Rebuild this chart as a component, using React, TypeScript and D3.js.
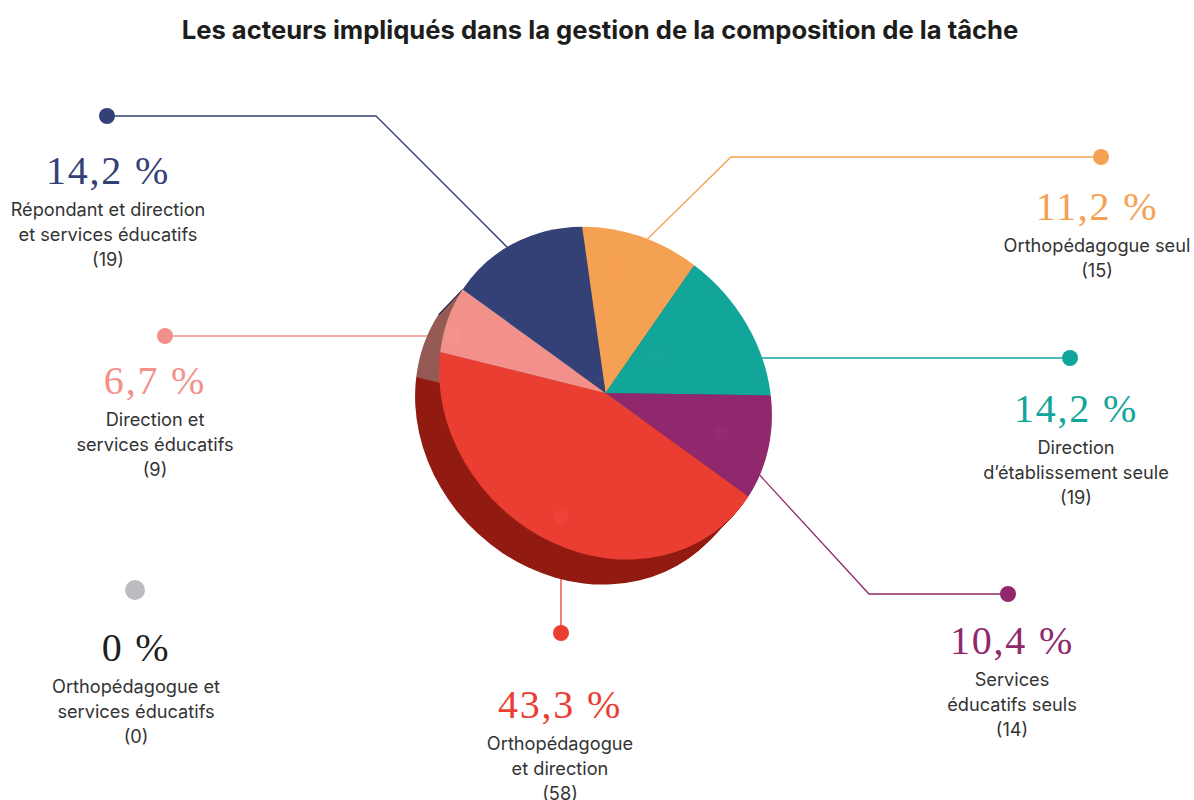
import React from 'react'
import * as d3 from 'd3'

const title = 'Les acteurs impliqués dans la gestion de la composition de la tâche'

// slices in clockwise order, from the top (orange first)
const actors = ['orthoSeul', 'directionSeule', 'servicesSeuls', 'orthoDirection', 'directionServices', 'repondant']
const counts = [15, 19, 14, 58, 9, 19]
const percents = ['11,2 %', '14,2 %', '10,4 %', '43,3 %', '6,7 %', '14,2 %']
const labels = [
  ['Orthopédagogue seul', '(15)'],
  ['Direction', 'd’établissement seule', '(19)'],
  ['Services', 'éducatifs seuls', '(14)'],
  ['Orthopédagogue', 'et direction', '(58)'],
  ['Direction et', 'services éducatifs', '(9)'],
  ['Répondant et direction', 'et services éducatifs', '(19)'],
]
const colors = ['#f4a153', '#12a59a', '#91286d', '#eb3e33', '#f2918a', '#344177']
const sideColors = ['#b5753a', '#0c7a72', '#6a1c50', '#911b11', '#955a54', '#1c2550']
const innerDotColors = ['#f6a050', '#15a69a', '#952a70', '#ed4339', '#f3958e', '#324076']

// leader line of each slice: outer dot first, inner dot last
const leaders: [number, number][][] = [
  [[1101, 157], [731, 157], [618, 268]],
  [[1070, 358], [655, 358]],
  [[1008, 594], [869, 594], [721, 433]],
  [[561, 633], [561, 517]],
  [[165, 336], [453, 336]],
  [[107, 116], [376, 116], [522, 262]],
]
const textPos: [number, number][] = [
  [1097, 220], [1076, 422], [1012, 654], [560, 718], [155, 394], [108, 184],
]

const width = 1194
const height = 800
const cx = 605.5
const cy = 393
const depthX = -24
const depthY = 25
const radiusLong = 177
const radiusShort = 155
const serif = '"Liberation Serif", serif'
const sans = 'Inter, sans-serif'

const Callout = ({x, y, percent, lines, color}: {x: number; y: number; percent: string; lines: string[]; color: string}) => (
  <g textAnchor="middle">
    <text x={x} y={y} fontFamily={serif} fontSize={40} letterSpacing={1.8} fill={color}>
      {percent}
    </text>
    {lines.map((line, i) => (
      <text key={line} x={x} y={y + 32 + i * 25} fontFamily={sans} fontSize={18.2} fill="#333333">
        {line}
      </text>
    ))}
  </g>
)

export default function App() {
  const pie = d3
    .pie<number>()
    .sort(null)
    .startAngle((-49.3 * Math.PI) / 180)
    .endAngle((310.7 * Math.PI) / 180)
  const slices = pie(counts)
  const arc = d3.arc<d3.PieArcDatum<number>>().innerRadius(0).outerRadius(1)
  const leader = d3.line()
  // the pie is a circle squashed along the NE-SW diagonal
  const squash = `rotate(45) scale(${radiusLong},${radiusShort})`
  const steps = d3.range(1, 27)

  // corner where the pink and navy slices meet, the navy side only shows as a thin line from there
  const a = slices[5].startAngle
  const lx = Math.sin(a) * radiusLong
  const ly = -Math.cos(a) * radiusShort
  const corner: [number, number] = [
    cx + (lx - ly) * Math.SQRT1_2,
    cy + (lx + ly) * Math.SQRT1_2,
  ]

  return (
    <svg width={width} height={height} style={{position: 'absolute', left: 0, top: 0}}>
      <rect width={width} height={height} fill="#ffffff" />
      <text x={600} y={39} textAnchor="middle" fontFamily={sans} fontWeight={700} fontSize={25.6} fill="#1d1d1b">
        {title}
      </text>

      {leaders.map((pts, i) => (
        <g key={actors[i]}>
          <path d={leader(pts) || ''} fill="none" stroke={colors[i]} strokeWidth={1.3} />
          <circle cx={pts[0][0]} cy={pts[0][1]} r={8} fill={colors[i]} />
        </g>
      ))}

      {/* side of the pie: the slices repeated along the depth */}
      {steps.map(k => (
        <g
          key={k}
          transform={`translate(${cx + (depthX * k) / 26},${cy + (depthY * k) / 26}) ${squash}`}
        >
          {slices.slice(0, 5).map((s, i) => (
            <path key={actors[i]} d={arc(s) || ''} fill={sideColors[i]} />
          ))}
        </g>
      ))}
      <path
        d={leader([corner, [corner[0] + depthX, corner[1] + depthY]]) || ''}
        fill="none"
        stroke={sideColors[5]}
        strokeWidth={1.2}
      />

      <g transform={`translate(${cx},${cy}) ${squash}`}>
        {slices.map((s, i) => (
          <path key={actors[i]} d={arc(s) || ''} fill={colors[i]} />
        ))}
      </g>

      {/* faint inner dots showing through the pie */}
      {leaders.map((pts, i) => {
        const end = pts[pts.length - 1]
        return <circle key={actors[i]} cx={end[0]} cy={end[1]} r={7.5} fill={innerDotColors[i]} />
      })}

      <circle cx={135} cy={590} r={10} fill="#bcbcc0" />
      <Callout
        x={136}
        y={661}
        percent="0 %"
        lines={['Orthopédagogue et', 'services éducatifs', '(0)']}
        color="#1d1d1b"
      />
      {textPos.map((p, i) => (
        <Callout key={actors[i]} x={p[0]} y={p[1]} percent={percents[i]} lines={labels[i]} color={colors[i]} />
      ))}
    </svg>
  )
}
